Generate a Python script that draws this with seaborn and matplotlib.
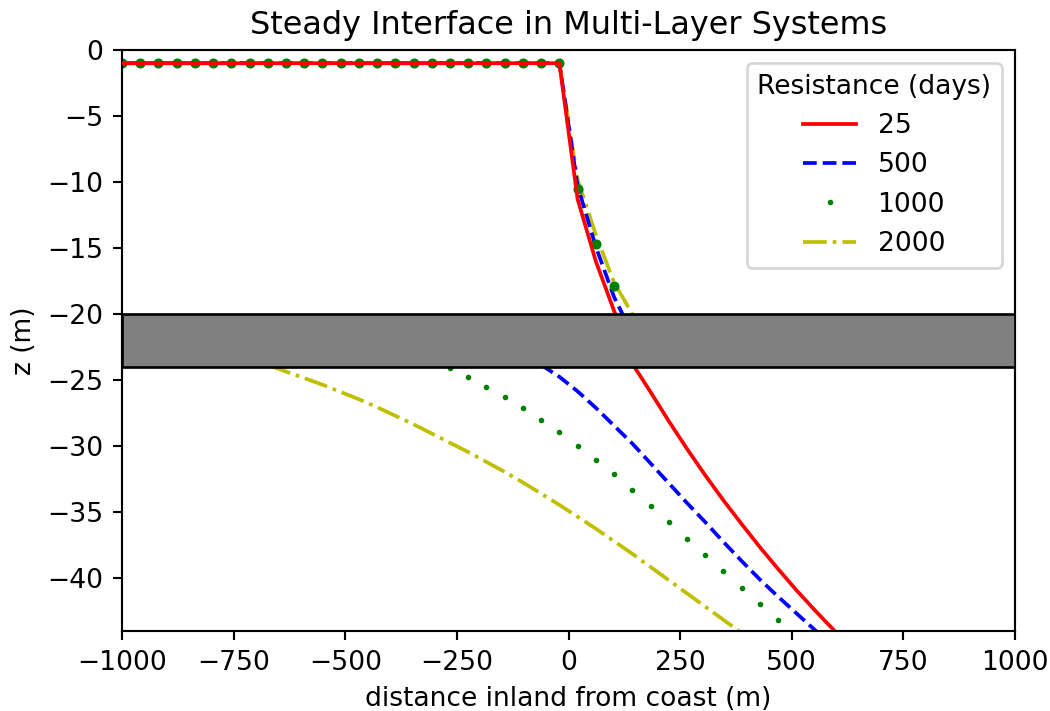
import numpy as np
import pandas as pd
import matplotlib
matplotlib.use("Agg")
import matplotlib.pyplot as plt
import seaborn as sns

# Resistance of the separating layer (days)
resistances = ["25", "500", "1000", "2000"]
colors = ["r", "b", "g", "y"]

# Upper aquifer: grid points along the x axis (m)
x_top = [-1000.0, -959.2, -918.4, -877.6, -836.7, -795.9, -755.1, -714.3,
         -673.5, -632.7, -591.8, -551.0, -510.2, -469.4, -428.6, -387.8,
         -346.9, -306.1, -265.3, -224.5, -183.7, -142.9, -102.0, -61.2,
         -20.4, 20.4, 61.2, 102.0, 142.9, 183.7]
flat_top = [-1.0, -1.0, -1.0, -1.0, -1.0, -1.0, -1.0, -1.0, -1.0, -1.0,
            -1.0, -1.0, -1.0, -1.0, -1.0, -1.0, -1.0, -1.0, -1.0, -1.0,
            -1.0, -1.0, -1.0, -1.0, -1.0]
z_top_25 = flat_top + [-11.3, -16.0, -19.75, -23.3, np.nan]
z_top_500 = flat_top + [-10.3, -14.9, -18.7, -21.5, np.nan]
z_top_1000 = flat_top + [-10.5, -14.7, -17.9, -21.0, np.nan]
z_top_2000 = flat_top + [-9.8, -14.0, -17.6, -20.0, -22.6]

# Lower aquifer interfaces
x_bot_25 = [142.9, 183.7, 224.5, 265.3, 306.1, 346.9, 387.8, 428.6, 469.4,
            510.2, 551.0, 591.8, 632.7]
z_bot_25 = [-23.75, -25.9, -28.1, -30.2, -32.2, -34.1, -35.9, -37.65,
            -39.3, -40.9, -42.4, -43.85, -45.25]

x_bot_500 = [-61.2, -20.4, 20.4, 61.2, 102.0, 142.9, 183.7, 224.5, 265.3,
             306.1, 346.9, 387.8, 428.6, 469.4, 510.2, 551.0, 591.8]
z_bot_500 = [-23.85, -24.75, -25.85, -27.1, -28.45, -29.8, -31.3, -32.8,
             -34.3, -35.75, -37.25, -38.7, -40.1, -41.4, -42.65, -43.9, -45.1]

x_bot_1000 = [-265.3, -224.5, -183.7, -142.9, -102.0, -61.2, -20.4, 20.4,
              61.2, 102.0, 142.9, 183.7, 224.5, 265.3, 306.1, 346.9, 387.8,
              428.6, 469.4, 510.2]
z_bot_1000 = [-24.11, -24.75, -25.51, -26.29, -27.14, -28.03, -28.96, -29.98,
              -31.04, -32.14, -33.31, -34.52, -35.76, -37.02, -38.26, -39.49,
              -40.73, -41.95, -43.13, -44.3]

x_bot_2000 = [-673.5, -632.7, -591.8, -551.0, -510.2, -469.4, -428.6, -387.8,
              -346.9, -306.1, -265.3, -224.5, -183.7, -142.9, -102.0, -61.2,
              -20.4, 20.4, 61.2, 102.0, 142.9, 183.7, 224.5, 265.3, 306.1,
              346.9, 387.8]
z_bot_2000 = [-23.85, -24.35, -24.85, -25.35, -25.9, -26.45, -27.05, -27.7,
              -28.35, -29.05, -29.75, -30.45, -31.2, -31.95, -32.75, -33.6,
              -34.45, -35.35, -36.25, -37.2, -38.15, -39.15, -40.15, -41.15,
              -42.15, -43.15, -44.15]

# Separating (leaky) layer
layer_top, layer_bot = -20.0, -24.0

DPI = 191
fig = plt.figure(figsize=(1050 / DPI, 711 / DPI), dpi=DPI)
ax = fig.add_axes([122 / 1050, 1 - 631 / 711, 893 / 1050, 581 / 711])

top_z = [z_top_25, z_top_500, z_top_1000, z_top_2000]
bot_x = [x_bot_25, x_bot_500, x_bot_1000, x_bot_2000]
bot_z = [z_bot_25, z_bot_500, z_bot_1000, z_bot_2000]
styles = ["-", "--", "none", "-."]

# Lower aquifer (labelled, gives the legend order)
for lab, c, ls, xb, zb in zip(resistances, colors, styles, bot_x, bot_z):
    df = pd.DataFrame({"x": xb, "z": zb})
    if ls == "none":
        sns.lineplot(data=df, x="x", y="z", sort=False, ax=ax, color=c,
                     linestyle="none", marker=".", markersize=4.2,
                     markeredgecolor=c, markeredgewidth=0, label=lab)
    else:
        sns.lineplot(data=df, x="x", y="z", sort=False, ax=ax, color=c,
                     linestyle=ls, linewidth=1.4, label=lab)

# Upper aquifer
zorders = [2.6, 2.2, 2.4, 2.1]
for c, ls, zt, zo in zip(colors, styles, top_z, zorders):
    df = pd.DataFrame({"x": x_top, "z": zt}).dropna()
    if ls == "none":
        sns.lineplot(data=df, x="x", y="z", sort=False, ax=ax, color=c,
                     linestyle="none", marker="o", markersize=3.8,
                     markeredgecolor=c, markeredgewidth=0, zorder=zo)
    else:
        sns.lineplot(data=df, x="x", y="z", sort=False, ax=ax, color=c,
                     linestyle=ls, linewidth=1.4, zorder=zo)

ax.axhspan(layer_bot, layer_top, facecolor="0.5", edgecolor="k",
           linewidth=1.0, zorder=3)

ax.set_xlim(-1000, 1000)
ax.set_ylim(-44, 0)
ax.set_xticks([-1000, -750, -500, -250, 0, 250, 500, 750, 1000])
ax.set_yticks([0, -5, -10, -15, -20, -25, -30, -35, -40])
ax.set_xlabel("distance inland from coast (m)")
ax.set_ylabel("z (m)")
ax.set_title("Steady Interface in Multi-Layer Systems", fontsize=12)
ax.legend(title="Resistance (days)", loc="upper right")

fig.savefig("out.png", dpi=DPI)
